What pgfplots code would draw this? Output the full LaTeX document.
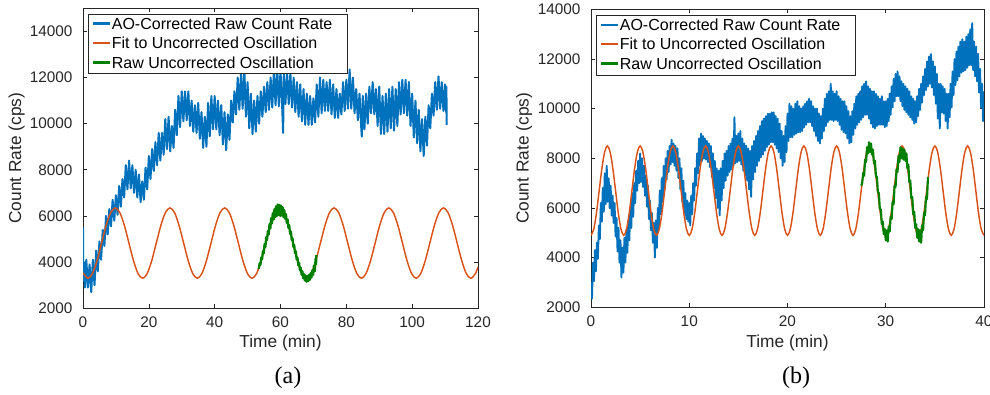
\documentclass[border=0pt]{standalone}
\usepackage{pgfplots}
\pgfplotsset{compat=1.18}
\usepackage{fontspec}
\setmainfont{Liberation Sans}
\newfontfamily\timesfont{Liberation Serif}
\definecolor{mblue}{RGB}{0,114,189}
\definecolor{morange}{RGB}{217,83,25}
\definecolor{mgreen}{RGB}{0,128,0}
\definecolor{axgray}{RGB}{38,38,38}
\pgfplotsset{
  mstyle/.style={
    scale only axis,
    axis line style={axgray, line width=0.5pt},
    every tick/.style={axgray, line width=0.5pt},
    major tick length=3pt,
    tick align=inside,
    tick label style={font=\fontsize{11.5}{13}\selectfont, text=axgray},
    /pgf/number format/assume math mode=true,
    /pgf/number format/1000 sep={},
    scaled ticks=false,
    label style={font=\fontsize{13}{15}\selectfont, text=axgray},
    xticklabel style={yshift=-2.5pt},
    yticklabel style={xshift=-4.4pt},
    legend cell align=left,
    legend style={at={(0,1)}, anchor=north west, xshift=4pt, yshift=-4.3pt,
      draw=axgray, line width=0.5pt, font=\fontsize{12}{14}\selectfont,
      inner xsep=2.3pt, inner ysep=0.6pt, row sep=0.4pt,
      nodes={inner xsep=0.5pt, inner ysep=2pt, text depth=0.15em}},
    legend image code/.code={\draw[#1, line width=1.6pt, line cap=butt] (0pt,0.8pt) -- (13pt,0.8pt);},
  }
}
\begin{document}
\begin{tikzpicture}
\path[use as bounding box] (0,0) rectangle (742.5pt,295.5pt);
% ---------------- panel (a)
\begin{axis}[mstyle,
  at={(62.25pt,64.3pt)}, anchor=south west,
  width=296.25pt, height=225pt,
  xmin=0, xmax=120, ymin=2000, ymax=15000,
  xtick={0,20,...,120}, ytick={2000,4000,...,14000},
  xlabel={Time (min)}, ylabel={Count Rate (cps)},
  xlabel style={at={(axis description cs:0.5,-0.117)}, anchor=center},
  ylabel style={at={(axis description cs:-0.168,0.5)}, anchor=center},
]
\addplot[mblue, line width=1.5pt, line join=round] coordinates {
(0,5500) (0.1,3200) (0.3,4000) (0.6,2900) (1,4100) (1.5,2900) (2,3900) (2.5,2700) (3,4100) (3.5,3000)
(4,4500) (4.5,3600) (5,4900) (5.5,4100) (6,5400) (6.5,4700) (7,6000) (7.5,5200) (8,6300) (8.5,5550)
(9,6700) (9.5,5800) (10,6900) (10.5,6050) (11,7300) (11.5,6400) (12,7600) (12.5,6800) (13,8200) (13.5,7150)
(14,8400) (14.5,7200) (15,8200) (15.5,7000) (16,8000) (16.5,6800) (17,7800) (17.5,6600) (18,7500) (18.5,6700)
(19,8100) (19.5,7150) (20,8600) (20.5,7600) (21,8900) (21.5,7950) (22,9200) (22.5,8200) (23,9600) (23.5,8400)
(24,9600) (24.5,8650) (25,10200) (25.5,8900) (26,10300) (26.5,8800) (27,9900) (27.5,8950) (28,10600) (28.5,9500)
(29,11200) (29.5,9850) (30,11400) (30.5,10100) (31,11400) (31.5,10150) (32,11400) (32.5,9900) (33,11000) (33.5,9650)
(34,10800) (34.5,9600) (35,10900) (35.5,9350) (36,10500) (36.5,8950) (37,10300) (37.5,9000) (38,10900) (38.5,9450)
(39,11200) (39.5,9750) (40,11200) (40.5,9750) (41,11000) (41.5,9500) (42,10800) (42.5,9100) (43,10500) (43.5,8850)
(44,10400) (44.5,9300) (45,11000) (45.5,10050) (46,11400) (46.5,10400) (47,12000) (47.5,10600) (48,12200) (48.5,10650)
(49,12400) (49.5,10300) (50,11800) (50.5,9800) (51,11300) (51.5,9550) (52,11000) (52.5,9650) (53,11200) (53.5,10000)
(54,11400) (54.5,10300) (55,11600) (55.5,10500) (56,11800) (56.5,10600) (57,12000) (57.5,10700) (58,12300) (58.5,10800)
(59,12400) (59.5,10750) (60,12300) (60.5,10750) (60.8,9600) (61,12200) (61.5,10850) (62,12200) (62.5,10850) (63,12200)
(63.5,10700) (64,12000) (64.5,10500) (65,11800) (65.5,10300) (66,11700) (66.5,10100) (67,11500) (67.5,9950) (68,11300)
(68.5,9950) (69,11200) (69.5,9950) (70,11100) (70.5,10050) (71,11700) (71.5,10300) (72,12000) (72.5,10450) (73,11900)
(73.5,10550) (74,11800) (74.5,10550) (75,11900) (75.5,10400) (76,11700) (76.5,10250) (77,11500) (77.5,10250) (78,11300)
(78.5,10400) (79,11800) (79.5,10550) (80,11900) (80.5,10650) (81,12350) (81.5,10650) (82,12000) (82.5,10450) (83,11500)
(83.5,10150) (84,11300) (84.5,9900) (84.7,9440) (85,11200) (85.5,9750) (86,11300) (86.5,10000) (87,11600) (87.5,10450)
(88,11800) (88.5,10400) (89,11500) (89.5,9900) (90,11600) (90.5,9550) (91,11200) (91.5,9550) (92,11300) (92.5,9650)
(93,11500) (93.5,9800) (94,11600) (94.5,9700) (95,11500) (95.5,9900) (96,11800) (96.5,10400) (97,11900) (97.5,10450)
(98,11900) (98.5,10350) (99,11800) (99.5,9900) (100,11300) (100.5,9400) (101,11000) (101.5,9150) (102,10600) (102.5,8800)
(103,10200) (103.5,8600) (104,10300) (104.5,9050) (105,10800) (105.5,9800) (106,11300) (106.5,10350) (107,11800) (107.5,10600)
(108,12050) (108.5,10650) (109,11800) (109.5,10550) (110,11700) (110.3,10500) (110.4,11600) (110.5,9950)
};
\addlegendentry{AO-Corrected Raw Count Rate\hspace*{8.5pt}}
\addplot[morange, line width=1.1pt, smooth] coordinates {
(0,3536) (1.49,3300) (2.875,3504) (4.26,4062) (5.645,4825) (7.03,5588) (8.415,6146) (9.8,6350)
(11.185,6146) (12.57,5588) (13.955,4825) (15.34,4062) (16.725,3504) (18.11,3300) (19.495,3504) (20.88,4062)
(22.265,4825) (23.65,5588) (25.035,6146) (26.42,6350) (27.805,6146) (29.19,5588) (30.575,4825) (31.96,4062)
(33.345,3504) (34.73,3300) (36.115,3504) (37.5,4062) (38.885,4825) (40.27,5588) (41.655,6146) (43.04,6350)
(44.425,6146) (45.81,5588) (47.195,4825) (48.58,4062) (49.965,3504) (51.35,3300) (52.735,3504) (54.12,4062)
(55.505,4825) (56.89,5588) (58.275,6146) (59.66,6350) (61.045,6146) (62.43,5588) (63.815,4825) (65.2,4062)
(66.585,3504) (67.97,3300) (69.355,3504) (70.74,4062) (72.125,4825) (73.51,5588) (74.895,6146) (76.28,6350)
(77.665,6146) (79.05,5588) (80.435,4825) (81.82,4062) (83.205,3504) (84.59,3300) (85.975,3504) (87.36,4062)
(88.745,4825) (90.13,5588) (91.515,6146) (92.9,6350) (94.285,6146) (95.67,5588) (97.055,4825) (98.44,4062)
(99.825,3504) (101.21,3300) (102.595,3504) (103.98,4062) (105.365,4825) (106.75,5588) (108.135,6146) (109.52,6350)
(110.905,6146) (112.29,5588) (113.675,4825) (115.06,4062) (116.445,3504) (117.83,3300) (119.215,3504) (120,3785)
};
\addlegendentry{Fit to Uncorrected Oscillation}
\addplot[mgreen, line width=1.7pt, line join=round] coordinates {
(53.41,3700) (53.66,3950) (53.91,3880) (54.16,4200) (54.41,4120) (54.66,4480) (54.91,4380) (55.16,4780)
(55.41,4650) (55.66,5080) (55.91,4950) (56.16,5350) (56.41,5200) (56.66,5650) (56.91,5450) (57.16,5900)
(57.41,5680) (57.66,6120) (57.91,5850) (58.16,6300) (58.41,5950) (58.66,6420) (58.91,6000) (59.16,6500)
(59.41,6050) (59.66,6480) (59.91,6000) (60.16,6450) (60.41,6020) (60.66,6380) (60.91,5950) (61.16,6250)
(61.41,5880) (61.66,6080) (61.91,5700) (62.16,5850) (62.41,5480) (62.66,5600) (62.91,5220) (63.16,5330)
(63.41,4950) (63.66,5040) (63.91,4660) (64.16,4750) (64.41,4380) (64.66,4470) (64.91,4110) (65.16,4200)
(65.41,3860) (65.66,3960) (65.91,3640) (66.16,3760) (66.41,3450) (66.66,3600) (66.91,3300) (67.16,3480)
(67.41,3200) (67.66,3420) (67.91,3150) (68.16,3400) (68.41,3170) (68.66,3450) (68.91,3230) (69.16,3520)
(69.41,3330) (69.66,3650) (69.91,3450) (70.16,3850) (70.41,3600) (70.66,4150) (70.8,3900) (70.9,4300)
};
\addlegendentry{Raw Uncorrected Oscillation}
\end{axis}
% ---------------- panel (b)
\begin{axis}[mstyle,
  at={(443.25pt,65pt)}, anchor=south west,
  width=294.75pt, height=223.5pt,
  xmin=0, xmax=40, ymin=2000, ymax=14000,
  xtick={0,10,...,40}, ytick={2000,4000,...,14000},
  xlabel={Time (min)}, ylabel={Count Rate (cps)},
  xlabel style={at={(axis description cs:0.5,-0.121)}, anchor=center},
  ylabel style={at={(axis description cs:-0.170,0.5)}, anchor=center},
]
\addplot[mblue, line width=1.4pt, line join=round] coordinates {
(0,3000) (0.1,2350) (0.2,3800) (0.3,3050) (0.4,4300) (0.5,3450) (0.6,4600) (0.7,3950) (0.8,5300) (0.9,4750)
(1,6200) (1.1,5450) (1.2,6800) (1.3,5850) (1.4,7400) (1.5,6150) (1.6,7700) (1.7,6250) (1.8,7200) (1.9,6000)
(2,6900) (2.1,5700) (2.2,6500) (2.3,5400) (2.4,6200) (2.5,4850) (2.6,5600) (2.7,4250) (2.8,5200) (2.9,3800)
(3,4700) (3.1,3200) (3.2,4400) (3.3,3400) (3.4,4800) (3.5,3800) (3.6,5100) (3.7,4200) (3.8,5500) (3.9,4700)
(4,6000) (4.1,5200) (4.2,6600) (4.3,5650) (4.4,7000) (4.5,6200) (4.6,7500) (4.7,6700) (4.8,7900) (4.9,7000)
(5,8200) (5.1,7050) (5.2,8000) (5.3,6850) (5.4,7700) (5.5,6500) (5.6,7300) (5.7,6050) (5.8,6900) (5.9,5550)
(6,6300) (6.1,5100) (6.2,5800) (6.3,4600) (6.4,5400) (6.5,4000) (6.6,5500) (6.7,4400) (6.8,6000) (6.9,5150)
(7,6700) (7.1,5750) (7.2,7200) (7.3,6250) (7.4,7700) (7.5,6750) (7.6,8000) (7.7,7150) (7.8,8300) (7.9,7450)
(8,8500) (8.1,7750) (8.2,8750) (8.3,7850) (8.4,8600) (8.5,7700) (8.6,8500) (8.7,7500) (8.8,8400) (8.9,7200)
(9,8000) (9.1,6750) (9.2,7600) (9.3,6250) (9.4,7100) (9.5,5800) (9.6,6600) (9.7,5550) (9.8,6300) (9.9,5450)
(10,6200) (10.1,5300) (10.2,6500) (10.3,5750) (10.4,7000) (10.5,6300) (10.6,7600) (10.7,6900) (10.8,8200) (10.9,7400)
(11,8800) (11.1,7700) (11.2,9000) (11.3,7900) (11.4,8900) (11.5,8000) (11.6,8800) (11.7,7950) (11.8,8700) (11.9,7850)
(12,8600) (12.1,7650) (12.2,8500) (12.3,7250) (12.4,8200) (12.5,6800) (12.6,7900) (12.7,6400) (12.8,7600) (12.9,6000)
(13,7500) (13.1,5700) (13.2,7600) (13.3,6300) (13.4,7900) (13.5,6800) (13.6,8200) (13.7,7100) (13.8,8300) (13.9,7300)
(14,8500) (14.1,7450) (14.2,8600) (14.3,7550) (14.4,8800) (14.5,7700) (14.6,9650) (14.7,7800) (14.8,8900) (14.9,7850)
(15,9000) (15.1,7900) (15.2,9100) (15.3,7750) (15.4,8800) (15.5,7500) (15.6,8600) (15.7,7300) (15.8,8500) (15.9,7100)
(16,8400) (16.1,6750) (16.2,8300) (16.3,6450) (16.4,8500) (16.5,7150) (16.6,8700) (16.7,7450) (16.8,8900) (16.9,7700)
(17,9100) (17.1,7900) (17.2,9300) (17.3,8050) (17.4,9500) (17.5,8150) (17.6,9600) (17.7,8300) (17.8,9700) (17.9,8450)
(18,9800) (18.1,8550) (18.2,9800) (18.3,8650) (18.4,9850) (18.5,8650) (18.6,9850) (18.7,8550) (18.8,9700) (18.9,8400)
(19,9600) (19.1,8250) (19.2,9400) (19.3,8000) (19.4,9100) (19.5,7700) (19.6,8900) (19.7,7850) (19.8,9300) (19.9,8250)
(20,9800) (20.1,8700) (20.2,10200) (20.3,8850) (20.4,10100) (20.5,8850) (20.6,10000) (20.7,8950) (20.8,10200) (20.9,9000)
(21,10300) (21.1,9050) (21.2,10100) (21.3,9050) (21.4,10000) (21.5,9100) (21.6,10100) (21.7,9250) (21.8,10200) (21.9,9350)
(22,10300) (22.1,9450) (22.2,10400) (22.3,9450) (22.4,10300) (22.5,9300) (22.6,10100) (22.7,9100) (22.8,10000) (22.9,8900)
(23,10000) (23.1,8700) (23.2,9800) (23.3,8600) (23.4,9700) (23.5,8800) (23.6,10000) (23.7,9100) (23.8,10400) (23.9,9300)
(24,10600) (24.1,9450) (24.2,10700) (24.3,9550) (24.4,11000) (24.5,9550) (24.6,10700) (24.7,9500) (24.8,10600) (24.9,9550)
(25,10700) (25.1,9500) (25.2,10500) (25.3,9350) (25.4,10400) (25.5,9150) (25.6,10300) (25.7,9050) (25.8,10300) (25.9,9000)
(26,10100) (26.1,8800) (26.2,9900) (26.3,8600) (26.4,9700) (26.5,8650) (26.6,9900) (26.7,8950) (26.8,10200) (26.9,9200)
(27,10500) (27.1,9350) (27.2,10600) (27.3,9450) (27.4,10700) (27.5,9550) (27.6,10900) (27.7,9650) (27.8,11000) (27.9,9750)
(28,11100) (28.1,9750) (28.2,10900) (28.3,9600) (28.4,10800) (28.5,9400) (28.6,10700) (28.7,9250) (28.8,10700) (28.9,9200)
(29,10600) (29.1,9300) (29.2,10500) (29.3,9350) (29.4,10400) (29.5,9350) (29.6,10500) (29.7,9350) (29.8,10300) (29.9,9250)
(30,10300) (30.1,9300) (30.2,10400) (30.3,9500) (30.4,10600) (30.5,9750) (30.6,10900) (30.7,10050) (30.8,11200) (30.9,10300)
(31,11400) (31.1,10500) (31.2,11500) (31.3,10500) (31.4,11300) (31.5,10300) (31.6,11100) (31.7,10100) (31.8,11000) (31.9,9950)
(32,10900) (32.1,9850) (32.2,10800) (32.3,9750) (32.4,10700) (32.5,9650) (32.6,10500) (32.7,9550) (32.8,10400) (32.9,9400)
(33,10300) (33.1,9450) (33.2,10500) (33.3,9700) (33.4,10800) (33.5,9950) (33.6,11000) (33.7,10250) (33.8,11300) (33.9,10550)
(34,11600) (34.1,10750) (34.2,11900) (34.3,10900) (34.4,12100) (34.5,11000) (34.6,12200) (34.7,10850) (34.8,11900) (34.9,10550)
(35,11700) (35.1,10200) (35.2,11400) (35.3,9600) (35.4,11000) (35.5,9200) (35.6,11000) (35.7,9850) (35.8,10900) (35.9,9800)
(36,10800) (36.1,9500) (36.2,10600) (36.3,9200) (36.4,10600) (36.5,9650) (36.6,11000) (36.7,10050) (36.8,11500) (36.9,10550)
(37,12000) (37.1,10950) (37.2,12300) (37.3,11150) (37.4,12500) (37.5,11300) (37.6,12700) (37.7,11450) (37.8,12800) (37.9,11500)
(38,12700) (38.1,11550) (38.2,12900) (38.3,11650) (38.4,13000) (38.5,11750) (38.6,13200) (38.7,11750) (38.8,13450) (38.9,11550)
(39,12700) (39.1,11300) (39.2,12500) (39.3,11100) (39.4,12200) (39.5,10650) (39.6,11600) (39.7,10050) (39.8,11000) (39.9,9500)
(40,10700)
};
\addlegendentry{AO-Corrected Raw Count Rate\hspace*{8.5pt}}
\addplot[morange, line width=1.1pt, smooth] coordinates {
(0,4900) (0.278,5141) (0.556,5800) (0.833,6700) (1.111,7600) (1.389,8259) (1.667,8500) (1.944,8259) (2.222,7600) (2.5,6700) (2.778,5800) (3.056,5141)
(3.333,4900) (3.611,5141) (3.889,5800) (4.167,6700) (4.444,7600) (4.722,8259) (5,8500) (5.278,8259) (5.556,7600) (5.833,6700) (6.111,5800) (6.389,5141)
(6.667,4900) (6.944,5141) (7.222,5800) (7.5,6700) (7.778,7600) (8.056,8259) (8.333,8500) (8.611,8259) (8.889,7600) (9.167,6700) (9.444,5800) (9.722,5141)
(10,4900) (10.278,5141) (10.556,5800) (10.833,6700) (11.111,7600) (11.389,8259) (11.667,8500) (11.944,8259) (12.222,7600) (12.5,6700) (12.778,5800) (13.056,5141)
(13.333,4900) (13.611,5141) (13.889,5800) (14.167,6700) (14.444,7600) (14.722,8259) (15,8500) (15.278,8259) (15.556,7600) (15.833,6700) (16.111,5800) (16.389,5141)
(16.667,4900) (16.944,5141) (17.222,5800) (17.5,6700) (17.778,7600) (18.056,8259) (18.333,8500) (18.611,8259) (18.889,7600) (19.167,6700) (19.444,5800) (19.722,5141)
(20,4900) (20.278,5141) (20.556,5800) (20.833,6700) (21.111,7600) (21.389,8259) (21.667,8500) (21.944,8259) (22.222,7600) (22.5,6700) (22.778,5800) (23.056,5141)
(23.333,4900) (23.611,5141) (23.889,5800) (24.167,6700) (24.444,7600) (24.722,8259) (25,8500) (25.278,8259) (25.556,7600) (25.833,6700) (26.111,5800) (26.389,5141)
(26.667,4900) (26.944,5141) (27.222,5800) (27.5,6700) (27.778,7600) (28.056,8259) (28.333,8500) (28.611,8259) (28.889,7600) (29.167,6700) (29.444,5800) (29.722,5141)
(30,4900) (30.278,5141) (30.556,5800) (30.833,6700) (31.111,7600) (31.389,8259) (31.667,8500) (31.944,8259) (32.222,7600) (32.5,6700) (32.778,5800) (33.056,5141)
(33.333,4900) (33.611,5141) (33.889,5800) (34.167,6700) (34.444,7600) (34.722,8259) (35,8500) (35.278,8259) (35.556,7600) (35.833,6700) (36.111,5800) (36.389,5141)
(36.667,4900) (36.944,5141) (37.222,5800) (37.5,6700) (37.778,7600) (38.056,8259) (38.333,8500) (38.611,8259) (38.889,7600) (39.167,6700) (39.444,5800) (39.722,5141)
(40,4900)
};
\addlegendentry{Fit to Uncorrected Oscillation}
\addplot[mgreen, line width=1.6pt, line join=round] coordinates {
(27.5,6900) (27.6,7000) (27.7,7400) (27.8,7300) (27.9,7950) (28,7850) (28.1,8450) (28.2,8200) (28.3,8650) (28.4,8250)
(28.5,8600) (28.6,8150) (28.7,8350) (28.8,7800) (28.9,7900) (29,7300) (29.1,7250) (29.2,6650) (29.3,6600) (29.4,5950)
(29.5,5950) (29.6,5350) (29.7,5450) (29.8,4950) (29.9,5150) (30,4700) (30.1,5100) (30.2,4650) (30.3,5250) (30.4,5050)
(30.5,5650) (30.6,5550) (30.7,6250) (30.8,6150) (30.9,6900) (31,6850) (31.1,7550) (31.2,7450) (31.3,8100) (31.4,7850)
(31.5,8450) (31.6,8000) (31.7,8400) (31.8,7950) (31.9,8350) (32,7900) (32.1,8200) (32.2,7600) (32.3,7750) (32.4,7050)
(32.5,7100) (32.6,6400) (32.7,6450) (32.8,5750) (32.9,5850) (33,5200) (33.1,5350) (33.2,4800) (33.3,5150) (33.4,4650)
(33.5,5100) (33.6,4600) (33.7,5300) (33.8,5100) (33.9,5800) (34,5700) (34.1,6450) (34.2,6350) (34.3,7250)
};
\addlegendentry{Raw Uncorrected Oscillation}
\end{axis}
\node[font=\timesfont\fontsize{18}{20}\selectfont] at (216pt,12pt) {(a)};
\node[font=\timesfont\fontsize{18}{20}\selectfont] at (597pt,12pt) {(b)};
\end{tikzpicture}
\end{document}
